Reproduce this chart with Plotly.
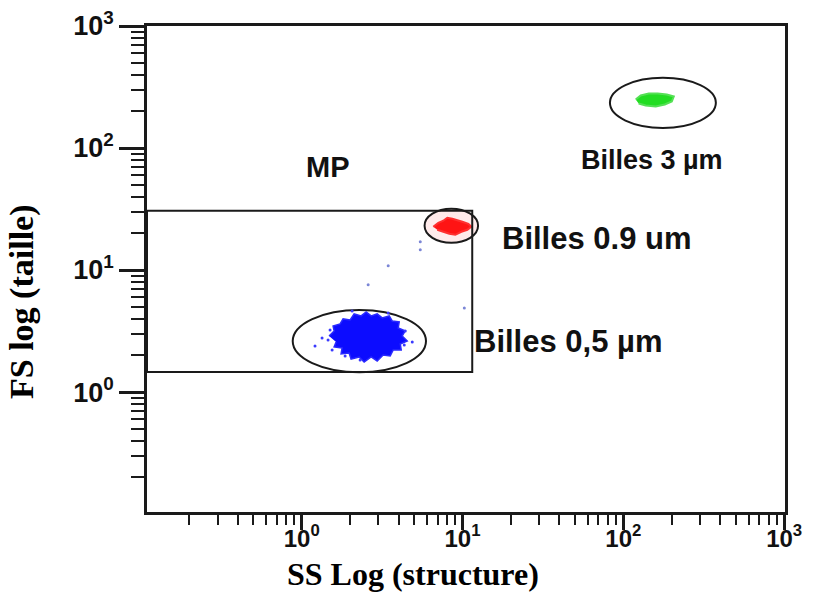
import numpy as np
import plotly.graph_objects as go

# ---- Event populations (SS = side scatter, FS = forward scatter, linear units) ----
# Outline of the dense 0.5 µm bead cloud
blue_ss = [1.479, 1.590, 1.567, 1.733, 1.808, 2.000, 2.118, 2.342, 2.516, 2.703,
           2.946, 3.165, 3.499, 3.653, 4.039, 3.981, 4.402, 4.216, 4.530, 4.099,
           4.156, 3.706, 3.549, 3.210, 2.946, 2.703, 2.444, 2.275, 2.028, 1.971,
           1.757, 1.783, 1.590, 1.636]
blue_fs = [2.883, 3.169, 3.483, 3.617, 3.975, 3.901, 4.369, 4.207, 4.538, 4.207,
           4.369, 4.051, 4.207, 3.827, 3.755, 3.354, 3.169, 2.883, 2.623, 2.478,
           2.212, 2.212, 1.975, 2.013, 1.797, 1.938, 1.763, 1.938, 1.866, 2.090,
           2.051, 2.297, 2.341, 2.574]
# Scattered 0.5 µm events around the cloud
blue_dot_ss = [1.501, 1.458, 1.545, 1.861, 2.308, 4.402, 4.340, 2.058, 1.338, 4.867, 3.449, 1.210]
blue_dot_fs = [3.228, 2.673, 2.212, 1.975, 1.831, 3.169, 2.432, 4.624, 2.776, 2.574, 4.452, 2.386]
# Isolated events inside the MP gate
gate_dot_ss = [5.460, 5.460, 3.449, 2.589, 10.26]
gate_dot_fs = [17.04, 14.65, 10.83, 7.558, 4.894]

# Outline of the 0.9 µm bead cloud
red_ss = [6.578, 7.069, 7.593, 8.041, 8.641, 9.151, 9.972, 10.87, 11.34, 10.71,
          9.829, 9.018, 8.275, 7.593, 6.966]
red_fs = [22.63, 24.41, 25.35, 26.83, 26.33, 25.84, 24.87, 23.95, 22.63, 21.38,
          20.59, 19.45, 19.82, 20.59, 21.38]

# Outline of the 3 µm bead cloud
green_ss = [119.3, 128.2, 143.8, 163.6, 186.1, 205.8, 200.0, 180.9, 158.9, 137.7, 124.5]
green_fs = [249.7, 269.3, 279.7, 279.7, 274.4, 264.2, 240.4, 227.2, 218.8, 222.9, 231.4]

# ---- Gate and region ellipses (SS / FS bounds) ----
mp_gate = dict(ss=(None, 11.49), fs=(1.459, 30.62))
ellipse_05 = dict(ss=(0.879, 5.926), fs=(1.451, 4.713))
ellipse_09 = dict(ss=(5.806, 12.49), fs=(16.73, 31.81))
ellipse_3 = dict(ss=(82.5, 375.9), fs=(146.2, 376.3))

# ---- Labels (anchor positions in SS / FS units) ----
labels = ["MP", "Billes 3 µm", "Billes 0.9 um", "Billes 0,5 µm"]
label_ss = [1.459, 52.7, 17.2, 11.46]
label_fs = [70.3, 80.3, 18.2, 2.574]
label_size = [29, 27, 31, 31]
label_anchor = ["center", "left", "left", "left"]

# ---- Axis ticks ----
major_vals = [1, 10, 100, 1000]
major_text = ["10<sup>0</sup>", "10<sup>1</sup>", "10<sup>2</sup>", "10<sup>3</sup>"]
minor_vals = [m * 10.0 ** e for e in (-1, 0, 1, 2) for m in range(2, 10)]

x_range_log = [-0.962, 3.005]
y_range_log = [-0.983, 3.0]

fig = go.Figure()

fig.add_trace(go.Scatter(x=blue_ss, y=blue_fs, mode="lines", fill="toself",
                         fillcolor="#0c0cff", line=dict(color="#2a2aff", width=1.5),
                         hoverinfo="skip", showlegend=False))
fig.add_trace(go.Scatter(x=blue_dot_ss, y=blue_dot_fs, mode="markers",
                         marker=dict(color="#3a3aff", size=3),
                         hoverinfo="skip", showlegend=False))
fig.add_trace(go.Scatter(x=gate_dot_ss, y=gate_dot_fs, mode="markers",
                         marker=dict(color="#7b86d6", size=3),
                         hoverinfo="skip", showlegend=False))
fig.add_trace(go.Scatter(x=red_ss, y=red_fs, mode="lines", fill="toself",
                         fillcolor="#ff1414", line=dict(color="#ff3030", width=2),
                         hoverinfo="skip", showlegend=False))
fig.add_trace(go.Scatter(x=green_ss, y=green_fs, mode="lines", fill="toself",
                         fillcolor="#22dd22", line=dict(color="#55e055", width=2),
                         hoverinfo="skip", showlegend=False))

x_min = 10 ** x_range_log[0]
line_style = dict(color="#1a1a1a", width=2)
fig.add_shape(type="rect", xref="x", yref="y",
              x0=x_min, x1=mp_gate["ss"][1], y0=mp_gate["fs"][0], y1=mp_gate["fs"][1],
              line=line_style)
for e, fillc in ((ellipse_05, "rgba(0,0,0,0)"),
                 (ellipse_09, "rgba(255,120,120,0.15)"),
                 (ellipse_3, "rgba(0,0,0,0)")):
    fig.add_shape(type="circle", xref="x", yref="y", layer="below",
                  x0=e["ss"][0], x1=e["ss"][1], y0=e["fs"][0], y1=e["fs"][1],
                  line=line_style, fillcolor=fillc)

for txt, sx, fy, sz, anc in zip(labels, label_ss, label_fs, label_size, label_anchor):
    fig.add_annotation(x=np.log10(sx), y=np.log10(fy), xref="x", yref="y",
                       text=txt, showarrow=False, xanchor=anc, yanchor="middle",
                       font=dict(family="Liberation Sans, Arial", size=sz,
                                 color="#111111", weight="bold"))

fig.add_annotation(x=-0.196, y=0.434, xref="paper", yref="paper",
                   xanchor="center", yanchor="middle",
                   text="FS log (taille)", textangle=-90, showarrow=False,
                   font=dict(family="Liberation Serif, Times New Roman", size=34,
                             color="#000000", weight="bold"))
fig.add_annotation(x=0.417, y=-0.128, xref="paper", yref="paper",
                   xanchor="center", yanchor="middle",
                   text="SS Log (structure)", showarrow=False,
                   font=dict(family="Liberation Serif, Times New Roman", size=32,
                             color="#000000", weight="bold"))

axis_common = dict(type="log", showgrid=False, zeroline=False, showline=True,
                   linecolor="#1a1a1a", linewidth=2.5, mirror=True, automargin=False,
                   tickmode="array", tickvals=major_vals, ticktext=major_text,
                   ticks="outside", tickcolor="#1a1a1a", tickwidth=2.5)

fig.update_xaxes(**axis_common, range=x_range_log, ticklen=15, ticklabelstandoff=-12,
                 tickfont=dict(family="Liberation Sans, Arial", size=24,
                               color="#111111", weight="bold"),
                 minor=dict(tickmode="array", tickvals=minor_vals, ticks="outside",
                            ticklen=10, tickwidth=2, tickcolor="#1a1a1a"))
fig.update_yaxes(**axis_common, range=y_range_log, ticklen=25,
                 tickfont=dict(family="Liberation Sans, Arial", size=27,
                               color="#111111", weight="bold"),
                 minor=dict(tickmode="array", tickvals=minor_vals, ticks="outside",
                            ticklen=13, tickwidth=2, tickcolor="#1a1a1a"))

fig.update_layout(width=814, height=595,
                  margin=dict(l=147, r=29, t=26, b=83),
                  paper_bgcolor="white", plot_bgcolor="white",
                  showlegend=False)

fig.write_html("out.html")
